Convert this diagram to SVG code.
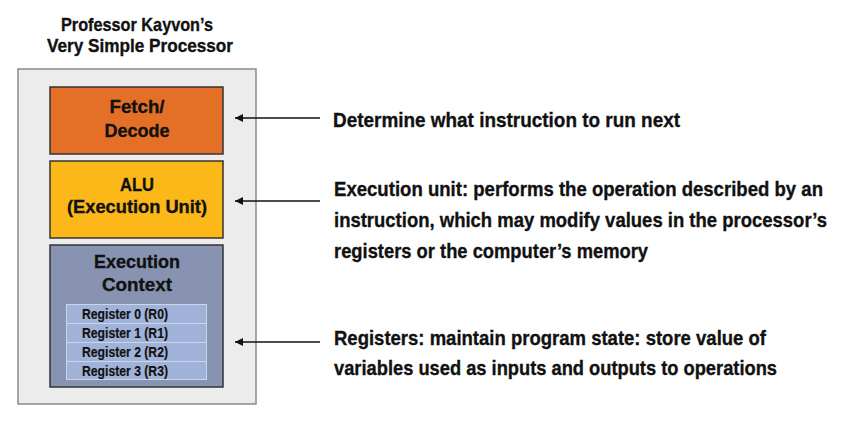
<svg xmlns="http://www.w3.org/2000/svg" width="863" height="421" viewBox="0 0 863 421">
<defs>
<style>
text{font-family:"Liberation Sans",Arial,sans-serif;font-weight:bold;fill:#111;stroke:#111;stroke-width:0.35}
.t{font-size:19px;text-anchor:middle}
.b{font-size:19px;text-anchor:middle}
.r{font-size:14px;stroke-width:0.2}
.d{font-size:21px}
.blk{stroke:#333;stroke-width:1.5}
.arr{stroke:#111;stroke-width:1.6;fill:none}
</style>
<marker id="ah" viewBox="0 0 10 10" refX="10" refY="5" markerWidth="10" markerHeight="8" markerUnits="userSpaceOnUse" orient="auto">
<path d="M0,0 L10,5 L0,10 Z" fill="#111"/>
</marker>
</defs>
<rect width="863" height="421" fill="#fff"/>
<g id="title">
<text class="t" x="137" y="31" textLength="152" lengthAdjust="spacingAndGlyphs">Professor Kayvon’s</text>
<text class="t" x="140" y="52" textLength="186" lengthAdjust="spacingAndGlyphs">Very Simple Processor</text>
</g>
<g id="processor">
<rect x="18" y="69" width="238" height="335" fill="#ececec" stroke="#8a8a8a" stroke-width="1.5"/>
</g>
<g id="fetch">
<rect class="blk" x="50" y="87" width="173" height="67" fill="#e46f27"/>
<text class="b" x="137" y="113" textLength="55" lengthAdjust="spacingAndGlyphs">Fetch/</text>
<text class="b" x="137" y="137" textLength="65" lengthAdjust="spacingAndGlyphs">Decode</text>
</g>
<g id="alu">
<rect class="blk" x="50" y="161" width="173" height="77" fill="#fbb818"/>
<text class="b" x="137" y="191" textLength="34" lengthAdjust="spacingAndGlyphs">ALU</text>
<text class="b" x="137" y="213" textLength="140" lengthAdjust="spacingAndGlyphs">(Execution Unit)</text>
</g>
<g id="context">
<rect class="blk" x="50" y="245" width="173" height="142" fill="#8793b0"/>
<text class="b" x="137" y="268" textLength="86" lengthAdjust="spacingAndGlyphs">Execution</text>
<text class="b" x="137" y="291" textLength="70" lengthAdjust="spacingAndGlyphs">Context</text>
<g id="registers" stroke="#c9d5ef" stroke-width="1">
<rect x="66.5" y="304.5" width="140" height="19" fill="#a1b2d8"/>
<rect x="66.5" y="323.5" width="140" height="19" fill="#a1b2d8"/>
<rect x="66.5" y="342.5" width="140" height="19" fill="#a1b2d8"/>
<rect x="66.5" y="361.5" width="140" height="18" fill="#a1b2d8"/>
</g>
<text class="r" x="82" y="318.5" textLength="86" lengthAdjust="spacingAndGlyphs">Register 0  (R0)</text>
<text class="r" x="82" y="337.5" textLength="86" lengthAdjust="spacingAndGlyphs">Register 1  (R1)</text>
<text class="r" x="82" y="356.5" textLength="86" lengthAdjust="spacingAndGlyphs">Register 2  (R2)</text>
<text class="r" x="82" y="375.5" textLength="86" lengthAdjust="spacingAndGlyphs">Register 3  (R3)</text>
</g>
<g id="connectors">
<line class="arr" x1="320" y1="118" x2="235" y2="118" marker-end="url(#ah)"/>
<line class="arr" x1="320" y1="201" x2="235" y2="201" marker-end="url(#ah)"/>
<line class="arr" x1="320" y1="342" x2="235" y2="342" marker-end="url(#ah)"/>
</g>
<g id="labels">
<text class="d" x="333" y="127" textLength="347" lengthAdjust="spacingAndGlyphs">Determine what instruction to run next</text>
<text class="d" x="334" y="196" textLength="489" lengthAdjust="spacingAndGlyphs">Execution unit: performs the operation described by an</text>
<text class="d" x="334" y="227" textLength="493" lengthAdjust="spacingAndGlyphs">instruction, which may modify values in the processor’s</text>
<text class="d" x="334" y="258" textLength="314" lengthAdjust="spacingAndGlyphs">registers or the computer’s memory</text>
<text class="d" x="334" y="345" textLength="432" lengthAdjust="spacingAndGlyphs">Registers: maintain program state: store value of</text>
<text class="d" x="334" y="375" textLength="443" lengthAdjust="spacingAndGlyphs">variables used as inputs and outputs to operations</text>
</g>
</svg>
